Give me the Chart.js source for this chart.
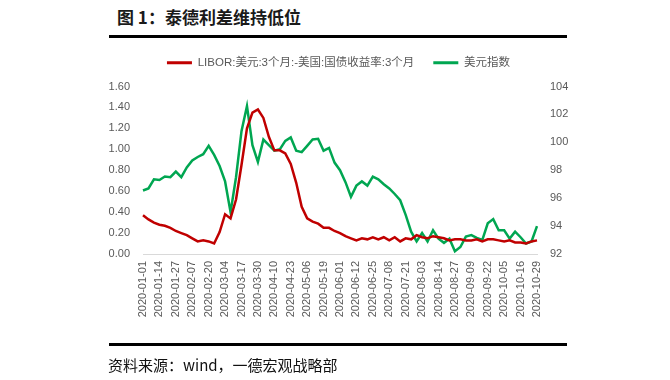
<!DOCTYPE html>
<html><head><meta charset="utf-8">
<script src="https://cdn.jsdelivr.net/npm/chart.js@4/dist/chart.umd.min.js"></script>
<style>
html,body{margin:0;padding:0;background:#fff;}
#wrap{position:relative;width:670px;height:380px;overflow:hidden;background:#fff;}
#title{position:absolute;left:117px;top:4px;font:bold 17px "Noto Sans CJK SC";color:#1a1a1a;white-space:nowrap;}
.rule{position:absolute;left:109px;width:458px;height:3px;background:#000;}
#foot{position:absolute;left:108px;top:354px;font:15px "Noto Sans CJK SC";color:#111;white-space:nowrap;}
#c{position:absolute;left:0;top:0;}
</style></head>
<body><div id="wrap">
<div id="title">图 1：泰德利差维持低位</div>
<div class="rule" style="top:35px"></div>
<canvas id="c" width="670" height="380"></canvas>
<div class="rule" style="top:343px"></div>
<div id="foot">资料来源：wind，一德宏观战略部</div>
</div>
<script>
// Every 3rd business day, 2020-01-01 .. 2020-10-29
const dates = [
 "2020-01-01","2020-01-06","2020-01-09","2020-01-14","2020-01-17","2020-01-22","2020-01-27","2020-01-30","2020-02-04","2020-02-07",
 "2020-02-12","2020-02-17","2020-02-20","2020-02-25","2020-02-28","2020-03-04","2020-03-09","2020-03-12","2020-03-17","2020-03-20",
 "2020-03-25","2020-03-30","2020-04-02","2020-04-07","2020-04-10","2020-04-15","2020-04-20","2020-04-23","2020-04-28","2020-05-01",
 "2020-05-06","2020-05-11","2020-05-14","2020-05-19","2020-05-22","2020-05-27","2020-06-01","2020-06-04","2020-06-09","2020-06-12",
 "2020-06-17","2020-06-22","2020-06-25","2020-06-30","2020-07-03","2020-07-08","2020-07-13","2020-07-16","2020-07-21","2020-07-24",
 "2020-07-29","2020-08-03","2020-08-06","2020-08-11","2020-08-14","2020-08-19","2020-08-24","2020-08-27","2020-09-01","2020-09-04",
 "2020-09-09","2020-09-14","2020-09-17","2020-09-22","2020-09-25","2020-09-30","2020-10-05","2020-10-08","2020-10-13","2020-10-16",
 "2020-10-21","2020-10-26","2020-10-29"
];
// Dates shown as tick labels
const tickLabels = [
 "2020-01-01","2020-01-14","2020-01-27","2020-02-07","2020-02-20","2020-03-04","2020-03-17","2020-03-30","2020-04-10","2020-04-23",
 "2020-05-06","2020-05-19","2020-06-01","2020-06-12","2020-06-25","2020-07-08","2020-07-21","2020-08-03","2020-08-14","2020-08-27",
 "2020-09-09","2020-09-22","2020-10-05","2020-10-16","2020-10-29"
];
// LIBOR USD 3M - US Treasury 3M (left axis)
const tedSpread = [
 0.37,0.33,0.30,0.28,0.27,0.25,0.22,0.20,0.18,0.15,
 0.12,0.13,0.12,0.10,0.21,0.38,0.34,0.52,0.85,1.20,
 1.35,1.38,1.30,1.12,0.99,0.99,0.96,0.86,0.68,0.45,
 0.34,0.31,0.29,0.25,0.25,0.22,0.20,0.17,0.15,0.13,
 0.15,0.14,0.16,0.14,0.16,0.13,0.16,0.12,0.15,0.14,
 0.18,0.16,0.15,0.17,0.16,0.15,0.13,0.14,0.14,0.13,
 0.13,0.14,0.12,0.14,0.14,0.13,0.12,0.13,0.11,0.11,
 0.10,0.12,0.13
];
// US dollar index (right axis)
const dollarIndex = [
 96.55,96.70,97.35,97.30,97.55,97.50,97.90,97.50,98.20,98.70,
 98.95,99.15,99.75,99.10,98.30,97.20,95.00,97.50,100.80,102.60,
 99.80,98.60,100.20,99.80,99.40,99.50,100.10,100.35,99.40,99.30,
 99.75,100.20,100.25,99.40,99.60,98.55,98.00,97.15,96.10,96.90,
 97.20,96.90,97.55,97.35,97.00,96.70,96.30,95.85,94.80,93.60,
 92.90,93.50,92.90,93.70,93.10,92.80,93.10,92.20,92.50,93.25,
 93.35,93.15,93.00,94.20,94.50,93.70,93.70,93.10,93.60,93.20,
 92.75,92.90,94.00
];
const leftTicks = [0, 1.6, 0.2];
const rightTicks = [92, 104, 2];
const seriesNames = ["LIBOR:美元:3个月:-美国:国债收益率:3个月", "美元指数"];
const seriesColors = ["#C00000", "#00A651"];

const tickFont = {family: '"Liberation Sans", "Noto Sans CJK SC"', size: 11};
const tickColor = "#595959";

// adds empty space below the legend
const legendGap = {
  id: 'legendGap',
  afterInit(chart) {
    const lg = chart.legend;
    if (!lg) return;
    const fit = lg.fit;
    lg.fit = function() { fit.call(this); this.height += 8; };
  }
};

new Chart(document.getElementById('c'), {
  type: 'line',
  data: {
    labels: dates,
    datasets: [
      {label: seriesNames[0], data: tedSpread, yAxisID: 'yL', borderColor: seriesColors[0], backgroundColor: seriesColors[0], borderWidth: 2.5, pointRadius: 0, tension: 0},
      {label: seriesNames[1], data: dollarIndex, yAxisID: 'yR', borderColor: seriesColors[1], backgroundColor: seriesColors[1], borderWidth: 2.5, pointRadius: 0, tension: 0}
    ]
  },
  plugins: [legendGap],
  options: {
    responsive: false,
    animation: false,
    layout: {padding: {left: 100, right: 93, top: 38, bottom: 56}},
    plugins: {
      tooltip: {enabled: false},
      legend: {
        display: true,
        position: 'top',
        labels: {
          font: {family: '"Liberation Sans", "Noto Sans CJK SC"', size: 11.5},
          color: tickColor,
          boxWidth: 25,
          boxHeight: 3,
          padding: 19,
          generateLabels: (chart) => chart.data.datasets.map((ds, i) => ({
            text: ds.label, fillStyle: ds.borderColor, strokeStyle: ds.borderColor,
            lineWidth: 0, hidden: false, datasetIndex: i, fontColor: tickColor
          }))
        }
      }
    },
    scales: {
      x: {
        offset: false,
        grid: {display: false, drawTicks: false},
        border: {display: true, color: '#d9d9d9', width: 1},
        ticks: {
          autoSkip: false, maxRotation: 90, minRotation: 90, padding: 7,
          font: tickFont, color: tickColor,
          callback: function(v, i) { const d = dates[i]; return tickLabels.includes(d) ? d : ''; }
        },
        afterFit: (s) => { s.height = 70; }
      },
      yL: {
        position: 'left', min: leftTicks[0], max: leftTicks[1],
        grid: {display: false, drawTicks: false},
        border: {display: false},
        ticks: {stepSize: leftTicks[2], padding: 13, font: tickFont, color: tickColor,
          callback: (v) => Number(v).toFixed(2)},
        afterFit: (s) => { s.width = 43; }
      },
      yR: {
        position: 'right', min: rightTicks[0], max: rightTicks[1],
        grid: {display: false, drawTicks: false},
        border: {display: false},
        ticks: {stepSize: rightTicks[2], padding: 13, font: tickFont, color: tickColor},
        afterFit: (s) => { s.width = 40; }
      }
    }
  }
});
</script>
</body></html>
